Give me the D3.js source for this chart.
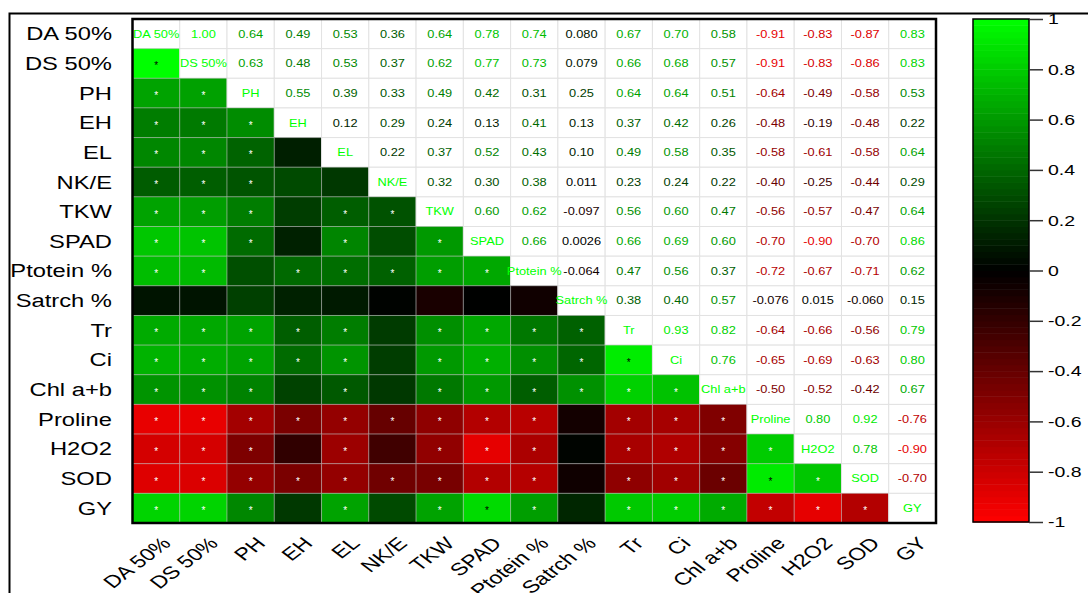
<!DOCTYPE html>
<html>
<head>
<meta charset="utf-8">
<script src="https://cdn.jsdelivr.net/npm/d3@7"></script>
<style>
  html, body { margin: 0; padding: 0; background: #fff; }
  svg { display: block; font-family: "Liberation Sans", Arial, Helvetica, sans-serif; }
</style>
</head>
<body>
<svg id="chart" width="1088" height="593"></svg>
<script>
// Trait names, in matrix order
const variables = ["DA 50%", "DS 50%", "PH", "EH", "EL", "NK/E", "TKW", "SPAD",
  "Ptotein %", "Satrch %", "Tr", "Ci", "Chl a+b", "Proline", "H2O2", "SOD", "GY"];

// Upper-triangle Pearson correlations, one row per trait (columns to the right of the diagonal)
const rowDA50    = [1.00, 0.64, 0.49, 0.53, 0.36, 0.64, 0.78, 0.74, 0.080, 0.67, 0.70, 0.58, -0.91, -0.83, -0.87, 0.83];
const rowDS50    = [0.63, 0.48, 0.53, 0.37, 0.62, 0.77, 0.73, 0.079, 0.66, 0.68, 0.57, -0.91, -0.83, -0.86, 0.83];
const rowPH      = [0.55, 0.39, 0.33, 0.49, 0.42, 0.31, 0.25, 0.64, 0.64, 0.51, -0.64, -0.49, -0.58, 0.53];
const rowEH      = [0.12, 0.29, 0.24, 0.13, 0.41, 0.13, 0.37, 0.42, 0.26, -0.48, -0.19, -0.48, 0.22];
const rowEL      = [0.22, 0.37, 0.52, 0.43, 0.10, 0.49, 0.58, 0.35, -0.58, -0.61, -0.58, 0.64];
const rowNKE     = [0.32, 0.30, 0.38, 0.011, 0.23, 0.24, 0.22, -0.40, -0.25, -0.44, 0.29];
const rowTKW     = [0.60, 0.62, -0.097, 0.56, 0.60, 0.47, -0.56, -0.57, -0.47, 0.64];
const rowSPAD    = [0.66, 0.0026, 0.66, 0.69, 0.60, -0.70, -0.90, -0.70, 0.86];
const rowProtein = [-0.064, 0.47, 0.56, 0.37, -0.72, -0.67, -0.71, 0.62];
const rowStarch  = [0.38, 0.40, 0.57, -0.076, 0.015, -0.060, 0.15];
const rowTr      = [0.93, 0.82, -0.64, -0.66, -0.56, 0.79];
const rowCi      = [0.76, -0.65, -0.69, -0.63, 0.80];
const rowChl     = [-0.50, -0.52, -0.42, 0.67];
const rowProline = [0.80, 0.92, -0.76];
const rowH2O2    = [0.78, -0.90];
const rowSOD     = [-0.70];
const rowGY      = [];

const upperRows = [rowDA50, rowDS50, rowPH, rowEH, rowEL, rowNKE, rowTKW, rowSPAD,
  rowProtein, rowStarch, rowTr, rowCi, rowChl, rowProline, rowH2O2, rowSOD, rowGY];

// Colour bar ticks
const legendTicks = [-1, -0.8, -0.6, -0.4, -0.2, 0, 0.2, 0.4, 0.6, 0.8, 1];

// |r| at or above this is marked with an asterisk
const sigThreshold = 0.315;

// ---- layout ----
const svg = d3.select("#chart");
const W = 1088, H = 593;
const grid = { left: 132.5, top: 19, right: 936, bottom: 523 };
const bar = { left: 973, right: 1029, top: 19, bottom: 522 };
const stretchBig = 1.32;   // horizontal stretch of label text
const stretchSmall = 1.22; // horizontal stretch of in-cell text

const fmtLocale = d3.formatLocale({ decimal: ".", thousands: ",", grouping: [3], currency: ["", ""], minus: "-" });
const fmt2f = fmtLocale.format(".2f");
const fmt2r = fmtLocale.format(".2r");
const fmtCell = v => Math.abs(v) >= 0.1 ? fmt2f(v) : fmt2r(v);
const fmtTick = fmtLocale.format("~g");

const x = d3.scaleBand().domain(variables).range([grid.left, grid.right]);
const y = d3.scaleBand().domain(variables).range([grid.top, grid.bottom]);
const color = d3.scaleLinear().domain([-1, 0, 1]).range(["#ff0000", "#000000", "#00ff00"]);

// full symmetric matrix
const n = variables.length;
const value = (i, j) => {
  if (i === j) return 1;
  if (i < j) return upperRows[i][j - i - 1];
  return upperRows[j][i - j - 1];
};
const cells = [];
for (let i = 0; i < n; i++) {
  for (let j = 0; j < n; j++) {
    cells.push({ i, j, r: value(i, j), row: variables[i], col: variables[j] });
  }
}

// outer figure frame
svg.append("path")
  .attr("d", `M9.5,${H} V13.5 H${W}`)
  .attr("fill", "none").attr("stroke", "#000").attr("stroke-width", 2);

// cells
const gCells = svg.append("g");
gCells.selectAll("rect")
  .data(cells)
  .join("rect")
  .attr("x", d => x(d.col))
  .attr("y", d => y(d.row))
  .attr("width", x.bandwidth())
  .attr("height", y.bandwidth())
  .attr("fill", d => d.i > d.j ? color(d.r) : "#fff")
  .attr("stroke", d => d.i > d.j ? "rgba(190,190,190,0.45)" : "#e2e2e2")
  .attr("stroke-width", 1);

// upper triangle: coefficients
svg.append("g").selectAll("text")
  .data(cells.filter(d => d.i < d.j))
  .join("text")
  .attr("transform", d => `translate(${x(d.col) + x.bandwidth() / 2},${y(d.row) + y.bandwidth() / 2}) scale(${stretchSmall},1)`)
  .attr("text-anchor", "middle")
  .attr("dy", "0.36em")
  .attr("font-size", 10.5)
  .attr("fill", d => color(d.r))
  .text(d => fmtCell(d.r));

// diagonal: trait names
svg.append("g").selectAll("text")
  .data(cells.filter(d => d.i === d.j))
  .join("text")
  .attr("transform", d => `translate(${x(d.col) + x.bandwidth() / 2},${y(d.row) + y.bandwidth() / 2}) scale(${stretchSmall},1)`)
  .attr("text-anchor", "middle")
  .attr("dy", "0.36em")
  .attr("font-size", 10.5)
  .attr("fill", color(1))
  .text(d => d.row);

// lower triangle: significance marks
svg.append("g").selectAll("text")
  .data(cells.filter(d => d.i > d.j && Math.abs(d.r) >= sigThreshold))
  .join("text")
  .attr("x", d => x(d.col) + x.bandwidth() / 2)
  .attr("y", d => y(d.row) + y.bandwidth() / 2)
  .attr("text-anchor", "middle")
  .attr("dy", "0.6em")
  .attr("font-size", 10)
  .attr("fill", d => d.r > 0.85 ? "#000" : "#fff")
  .text("*");

// heatmap border
svg.append("rect")
  .attr("x", grid.left).attr("y", grid.top)
  .attr("width", grid.right - grid.left).attr("height", grid.bottom - grid.top)
  .attr("fill", "none").attr("stroke", "#000").attr("stroke-width", 2.5);

// row labels
svg.append("g").selectAll("text")
  .data(variables)
  .join("text")
  .attr("transform", d => `translate(112,${y(d) + y.bandwidth() / 2}) scale(${stretchBig},1)`)
  .attr("text-anchor", "end")
  .attr("dy", "0.36em")
  .attr("font-size", 18)
  .attr("fill", "#000")
  .text(d => d);

// column labels, slanted
svg.append("g").selectAll("text")
  .data(variables)
  .join("text")
  .attr("transform", d => `translate(${x(d) + x.bandwidth() / 2 + 10},${grid.bottom + 17}) scale(${stretchBig},1) rotate(-45)`)
  .attr("text-anchor", "end")
  .attr("dy", "0.36em")
  .attr("font-size", 17.5)
  .attr("fill", "#000")
  .text(d => d);

// colour bar
const cb = d3.scaleLinear().domain([-1, 1]).range([bar.bottom, bar.top]);
const step = 0.025;
const bands = d3.range(-1, 1 - 1e-9, step);
svg.append("g").selectAll("rect")
  .data(bands)
  .join("rect")
  .attr("x", bar.left)
  .attr("width", bar.right - bar.left)
  .attr("y", d => cb(d + step))
  .attr("height", d => cb(d) - cb(d + step) + 0.5)
  .attr("fill", d => color(d + step / 2));
svg.append("rect")
  .attr("x", bar.left).attr("y", bar.top)
  .attr("width", bar.right - bar.left).attr("height", bar.bottom - bar.top)
  .attr("fill", "none").attr("stroke", "#000").attr("stroke-width", 1.5);

const tickLen = 14, tickPad = 5;
const axis = svg.append("g")
  .attr("transform", `translate(${bar.right},0)`)
  .call(d3.axisRight(cb).tickValues(legendTicks).tickSize(tickLen).tickPadding(tickPad).tickFormat(fmtTick));
axis.select(".domain").remove();
axis.selectAll(".tick line").attr("stroke", "#333").attr("stroke-width", 1.5);
axis.selectAll(".tick text")
  .attr("x", null)
  .attr("transform", `translate(${tickLen + tickPad},0) scale(1.3,1)`)
  .attr("font-size", 15)
  .attr("font-family", "\"Liberation Sans\", Arial, sans-serif")
  .attr("fill", "#000");
</script>
</body>
</html>
